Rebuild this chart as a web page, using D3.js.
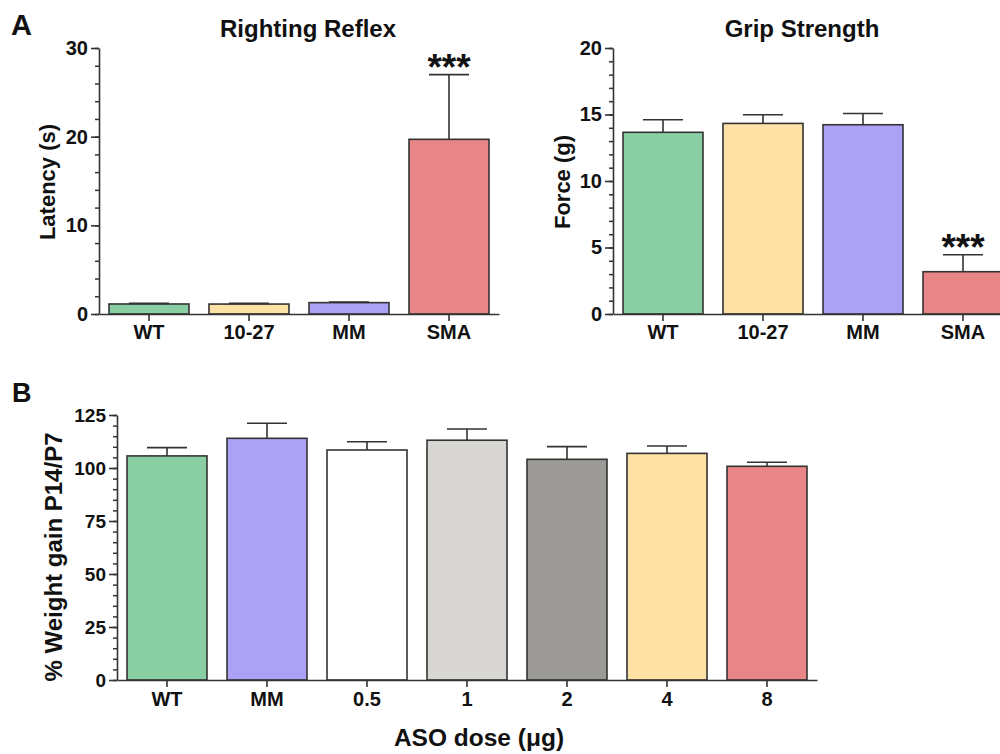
<!DOCTYPE html>
<html>
<head>
<meta charset="utf-8">
<script src="https://cdn.jsdelivr.net/npm/d3@7"></script>
<style>
  html, body { margin: 0; padding: 0; background: #fff; }
  svg { display: block; }
  text { font-family: "Liberation Sans", Arial, Helvetica, sans-serif; font-weight: bold; fill: #111; }
</style>
</head>
<body>
<svg id="chart" width="1000" height="754"></svg>
<script>
// ---------- DATA ----------
const rightingCategories = ["WT", "10-27", "MM", "SMA"];
const rightingMeans = [1.13, 1.12, 1.28, 19.7];
const rightingErrTop = [1.2, 1.2, 1.36, 27.0];
const rightingColors = ["#8ACFA3", "#FEE1A5", "#ABA2F6", "#E88587"];
const rightingTicks = [0, 10, 20, 30];
const rightingSig = ["", "", "", "***"];

const gripCategories = ["WT", "10-27", "MM", "SMA"];
const gripMeans = [13.66, 14.33, 14.23, 3.18];
const gripErrTop = [14.6, 14.98, 15.08, 4.46];
const gripColors = ["#8ACFA3", "#FEE1A5", "#ABA2F6", "#E88587"];
const gripTicks = [0, 5, 10, 15, 20];
const gripSig = ["", "", "", "***"];

const weightCategories = ["WT", "MM", "0.5", "1", "2", "4", "8"];
const weightMeans = [105.7, 114.0, 108.5, 113.1, 104.1, 106.9, 100.8];
const weightErrTop = [109.6, 121.1, 112.4, 118.4, 110.1, 110.4, 102.7];
const weightColors = ["#8ACFA3", "#ABA2F6", "#FFFFFF", "#D7D6D3", "#9B9A96", "#FEE1A5", "#E88587"];
const weightTicks = [0, 25, 50, 75, 100, 125];

// ---------- DRAW ----------
const svg = d3.select("#chart");
const STROKE = "#333";
const FONT = "'Liberation Sans', Arial, sans-serif";

function barPanel(opts) {
  const g = svg.append("g");
  const x = d3.scaleBand().domain(opts.categories).range(opts.xRange)
    .paddingInner(0.2).paddingOuter(0.1);
  const y = d3.scaleLinear().domain(opts.yDomain).range(opts.yRange);

  // bars
  g.selectAll("rect.bar").data(opts.categories).join("rect")
    .attr("class", "bar")
    .attr("x", d => x(d))
    .attr("y", (d, i) => y(opts.means[i]))
    .attr("width", x.bandwidth())
    .attr("height", (d, i) => y(0) - y(opts.means[i]))
    .attr("fill", (d, i) => opts.colors[i])
    .attr("stroke", STROKE).attr("stroke-width", 1.6);

  // error bars (upper only)
  const eb = g.selectAll("g.err").data(opts.categories).join("g").attr("class", "err");
  eb.append("line")
    .attr("x1", d => x(d) + x.bandwidth() / 2).attr("x2", d => x(d) + x.bandwidth() / 2)
    .attr("y1", (d, i) => y(opts.means[i])).attr("y2", (d, i) => y(opts.errTop[i]))
    .attr("stroke", STROKE).attr("stroke-width", 1.6);
  eb.append("line")
    .attr("x1", d => x(d) + x.bandwidth() * 0.25).attr("x2", d => x(d) + x.bandwidth() * 0.75)
    .attr("y1", (d, i) => y(opts.errTop[i])).attr("y2", (d, i) => y(opts.errTop[i]))
    .attr("stroke", STROKE).attr("stroke-width", 1.6);

  // significance
  if (opts.sig) {
    g.selectAll("text.sig").data(opts.categories).join("text")
      .attr("class", "sig")
      .attr("x", d => x(d) + x.bandwidth() / 2)
      .attr("y", (d, i) => y(opts.errTop[i]) + 5)
      .attr("text-anchor", "middle")
      .style("font-size", "37px")
      .text((d, i) => opts.sig[i]);
  }

  // y axis minor ticks
  const minor = d3.range(opts.yDomain[0], opts.yDomain[1] + 1e-9, opts.minorStep);
  g.append("g").attr("transform", `translate(${opts.xRange[0]},0)`)
    .call(d3.axisLeft(y).tickValues(minor).tickSize(4).tickFormat(""))
    .call(a => a.select(".domain").remove())
    .call(a => a.selectAll("line").attr("stroke", STROKE).attr("stroke-width", 1.5));
  // y axis major
  g.append("g").attr("transform", `translate(${opts.xRange[0]},0)`)
    .call(d3.axisLeft(y).tickValues(opts.ticks).tickSize(8).tickSizeOuter(0).tickPadding(3))
    .call(a => a.select(".domain").attr("stroke", STROKE).attr("stroke-width", 1.6))
    .call(a => a.selectAll("line").attr("stroke", STROKE).attr("stroke-width", 1.6))
    .call(a => a.selectAll("text").style("font-size", opts.tickFont + "px").attr("fill", "#111")
      .style("font-family", FONT).style("font-weight", "bold"));

  // x axis
  g.append("g").attr("transform", `translate(0,${opts.yRange[0]})`)
    .call(d3.axisBottom(x).tickSize(7).tickSizeOuter(0).tickPadding(opts.catPad))
    .call(a => a.select(".domain").attr("stroke", STROKE).attr("stroke-width", 1.6))
    .call(a => a.selectAll("line").attr("stroke", STROKE).attr("stroke-width", 1.6))
    .call(a => a.selectAll("text").style("font-size", opts.catFont + "px").attr("fill", "#111")
      .style("font-family", FONT).style("font-weight", "bold"));

  // y label
  svg.append("text")
    .attr("transform", `translate(${opts.yLabelPos[0]},${opts.yLabelPos[1]}) rotate(-90)`)
    .attr("text-anchor", "middle")
    .style("font-size", opts.yLabelFont + "px")
    .text(opts.yLabel);

  // title
  if (opts.title) {
    svg.append("text")
      .attr("x", opts.titlePos[0]).attr("y", opts.titlePos[1])
      .attr("text-anchor", "middle")
      .style("font-size", "24px")
      .text(opts.title);
  }
  return { x, y };
}

barPanel({
  categories: rightingCategories, means: rightingMeans, errTop: rightingErrTop,
  colors: rightingColors, sig: rightingSig, ticks: rightingTicks,
  xRange: [99, 499], yDomain: [0, 30], yRange: [314, 48], minorStep: 2,
  tickFont: 20, catFont: 20, catPad: 4,
  yLabel: "Latency (s)", yLabelPos: [55, 182], yLabelFont: 22,
  title: "Righting Reflex", titlePos: [308, 37]
});

barPanel({
  categories: gripCategories, means: gripMeans, errTop: gripErrTop,
  colors: gripColors, sig: gripSig, ticks: gripTicks,
  xRange: [613, 1013], yDomain: [0, 20], yRange: [314, 48], minorStep: 1,
  tickFont: 20, catFont: 20, catPad: 4,
  yLabel: "Force (g)", yLabelPos: [570, 182], yLabelFont: 22,
  title: "Grip Strength", titlePos: [802, 37]
});

barPanel({
  categories: weightCategories, means: weightMeans, errTop: weightErrTop,
  colors: weightColors, sig: null, ticks: weightTicks,
  xRange: [117, 817], yDomain: [0, 125], yRange: [680, 415], minorStep: 5,
  tickFont: 19, catFont: 20, catPad: 5,
  yLabel: "% Weight gain P14/P7", yLabelPos: [62, 557], yLabelFont: 24,
  title: null
});

// x title for B
svg.append("text").attr("x", 479).attr("y", 746).attr("text-anchor", "middle")
  .style("font-size", "24.5px").text("ASO dose (\u03BCg)");

// panel letters
svg.append("text").attr("x", 11).attr("y", 35).style("font-size", "29px").text("A");
svg.append("text").attr("x", 12).attr("y", 402).style("font-size", "27px").text("B");
</script>
</body>
</html>
